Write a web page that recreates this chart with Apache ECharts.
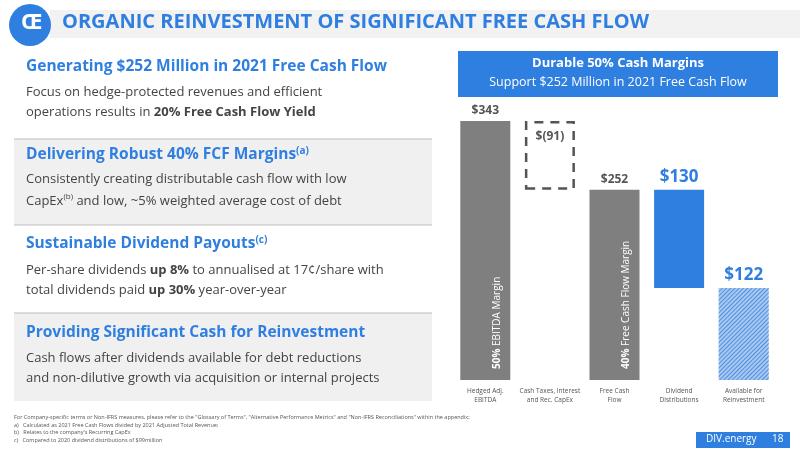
<!DOCTYPE html>
<html><head><meta charset="utf-8">
<script src="https://cdn.jsdelivr.net/npm/echarts@6/dist/echarts.min.js"></script>
<style>html,body{margin:0;padding:0;background:#fff}#c{width:800px;height:450px}</style>
</head><body><div id="c"></div>
<script>
const categories = ['Hedged Adj.\nEBITDA', 'Cash Taxes, Interest\nand Rec. CapEx', 'Free Cash\nFlow', 'Dividend\nDistributions', 'Available for\nReinvestment'];
const baseValues = [0, 252, 0, 122, 0];
const barValues = [343, 91, 252, 130, 122];
const valueLabels = ['$343', '$(91)', '$252', '$130', '$122'];
const innerLabels = ['{b|50%} EBITDA Margin', '', '{b|40%} Free Cash Flow Margin', '', ''];

const BLUE = '#2f7fe0', GREY = '#7f7f7f', DARK = '#555';
const F = 'Open Sans, Noto Sans, sans-serif';

const barData = barValues.map((v, i) => {
  const d = { value: v };
  if (i === 0 || i === 2) d.itemStyle = { color: GREY };
  if (i === 1) d.itemStyle = { color: 'rgba(0,0,0,0)', borderColor: '#555', borderWidth: 2.5, borderType: [9, 7] };
  if (i === 3) d.itemStyle = { color: BLUE };
  if (i === 4) d.itemStyle = { color: '#a9c8ef', decal: { symbol: 'rect', dashArrayX: [1, 0], dashArrayY: [1, 2], rotation: -Math.PI / 4, color: '#4d8fe0', symbolSize: 1 } };
  const blue = i >= 3;
  d.label = {
    show: true, position: i === 1 ? 'insideTop' : 'top', distance: i === 1 ? 10 : 4,
    formatter: valueLabels[i], fontFamily: F, fontWeight: 'bold',
    fontSize: blue ? 17 : 12, color: blue ? BLUE : DARK
  };
  return d;
});

const baseData = baseValues.map((v, i) => ({
  value: v,
  label: innerLabels[i] ? {
    show: true, position: 'insideBottom', rotate: 90, align: 'left', verticalAlign: 'middle',
    offset: [6, 12], formatter: innerLabels[i], fontFamily: F, fontSize: 10, color: '#fff',
    rich: { b: { fontFamily: F, fontSize: 10, fontWeight: 'bold', color: '#fff' } }
  } : { show: false }
}));

const chart = echarts.init(document.getElementById('c'));

const rich = {
  b: { fontFamily: F, fontSize: 13, fontWeight: 'bold', fill: '#444' },
  n: { fontFamily: F, fontSize: 13, fill: '#444' },
  s: { fontFamily: F, fontSize: 8, fill: '#444', padding: [0, 0, 8, 0] },
  h: { fontFamily: F, fontSize: 15.5, fontWeight: 'bold', fill: BLUE },
  hs: { fontFamily: F, fontSize: 10, fontWeight: 'bold', fill: BLUE, padding: [0, 0, 8, 0] }
};
function leftText(y, lines) {
  return lines.map((t, k) => ({ type: 'text', left: 26, top: y + k * 20, style: { text: t, rich: rich } }));
}

const graphics = [
  { type: 'rect', shape: { x: 50, y: 10, width: 750, height: 28 }, style: { fill: '#f2f2f2' } },
  { type: 'circle', shape: { cx: 30, cy: 25, r: 21 }, style: { fill: BLUE } },
  { type: 'text', left: 21, top: 12, style: { text: 'Œ', font: 'bold 22px ' + F, fill: '#fff' } },
  { type: 'text', left: 62, top: 12, style: { text: 'ORGANIC REINVESTMENT OF SIGNIFICANT FREE CASH FLOW', font: 'bold 20px ' + F, fill: BLUE } },
  { type: 'rect', shape: { x: 14, y: 139, width: 418, height: 86 }, style: { fill: '#f0f0f0' } },
  { type: 'rect', shape: { x: 14, y: 313, width: 418, height: 88 }, style: { fill: '#f0f0f0' } },
  { type: 'line', shape: { x1: 14, y1: 139, x2: 432, y2: 139 }, style: { stroke: '#bbb', lineWidth: 1 } },
  { type: 'line', shape: { x1: 14, y1: 225, x2: 432, y2: 225 }, style: { stroke: '#bbb', lineWidth: 1 } },
  { type: 'line', shape: { x1: 14, y1: 313, x2: 432, y2: 313 }, style: { stroke: '#bbb', lineWidth: 1 } },
  { type: 'text', left: 26, top: 59, style: { text: '{h|Generating $252 Million in 2021 Free Cash Flow}', rich: rich } },
  ...leftText(86, ['{n|Focus on hedge-protected revenues and efficient}', '{n|operations results in }{b|20% Free Cash Flow Yield}']),
  { type: 'text', left: 26, top: 146, style: { text: '{h|Delivering Robust 40% FCF Margins}{hs|(a)}', rich: rich } },
  ...leftText(173, ['{n|Consistently creating distributable cash flow with low}', '{n|CapEx}{s|(b)}{n| and low, ~5% weighted average cost of debt}']),
  { type: 'text', left: 26, top: 235, style: { text: '{h|Sustainable Dividend Payouts}{hs|(c)}', rich: rich } },
  ...leftText(264, ['{n|Per-share dividends }{b|up 8%}{n| to annualised at 17¢/share with}', '{n|total dividends paid }{b|up 30%}{n| year-over-year}']),
  { type: 'text', left: 26, top: 325, style: { text: '{h|Providing Significant Cash for Reinvestment}', rich: rich } },
  ...leftText(352, ['{n|Cash flows after dividends available for debt reductions}', '{n|and non-dilutive growth via acquisition or internal projects}']),
  { type: 'rect', shape: { x: 458, y: 51, width: 320, height: 46 }, style: { fill: BLUE } },
  { type: 'text', x: 618, y: 57, style: { text: 'Durable 50% Cash Margins', align: 'center', font: 'bold 13px ' + F, fill: '#fff' } },
  { type: 'text', x: 618, y: 76, style: { text: 'Support $252 Million in 2021 Free Cash Flow', align: 'center', font: '12.5px ' + F, fill: '#fff' } },
  { type: 'text', left: 14, top: 414, style: { text: 'For Company-specific terms or Non-IFRS measures, please refer to the "Glossary of Terms", "Alternative Performance Metrics" and "Non-IFRS Reconciliations" within the appendix;\na)   Calculated as 2021 Free Cash Flows divided by 2021 Adjusted Total Revenue;\nb)   Relates to the company\'s Recurring CapEx\nc)   Compared to 2020 dividend distributions of $99million', font: '5.5px ' + F, fill: '#555', lineHeight: 7.5 } },
  { type: 'rect', shape: { x: 696, y: 432, width: 94, height: 16 }, style: { fill: BLUE } },
  { type: 'text', left: 706, top: 434, style: { text: 'DIV.energy', font: '10px ' + F, fill: '#fff' } },
  { type: 'text', left: 772, top: 434, style: { text: '18', font: '10px ' + F, fill: '#fff' } }
];

chart.setOption({
  animation: false,
  grid: { left: 453, right: 24, top: 121, bottom: 70 },
  xAxis: { type: 'category', data: categories, axisLine: { show: false }, axisTick: { show: false },
    axisLabel: { fontFamily: F, fontSize: 6.5, color: '#555', lineHeight: 9, margin: 7, interval: 0 } },
  yAxis: { type: 'value', min: 0, max: 343, show: false, splitLine: { show: false } },
  series: [
    { type: 'bar', stack: 'w', data: baseData, itemStyle: { color: 'rgba(0,0,0,0)' }, barWidth: 50, silent: true },
    { type: 'bar', stack: 'w', data: barData, barWidth: 50 }
  ],
  graphic: graphics
});
</script></body></html>
